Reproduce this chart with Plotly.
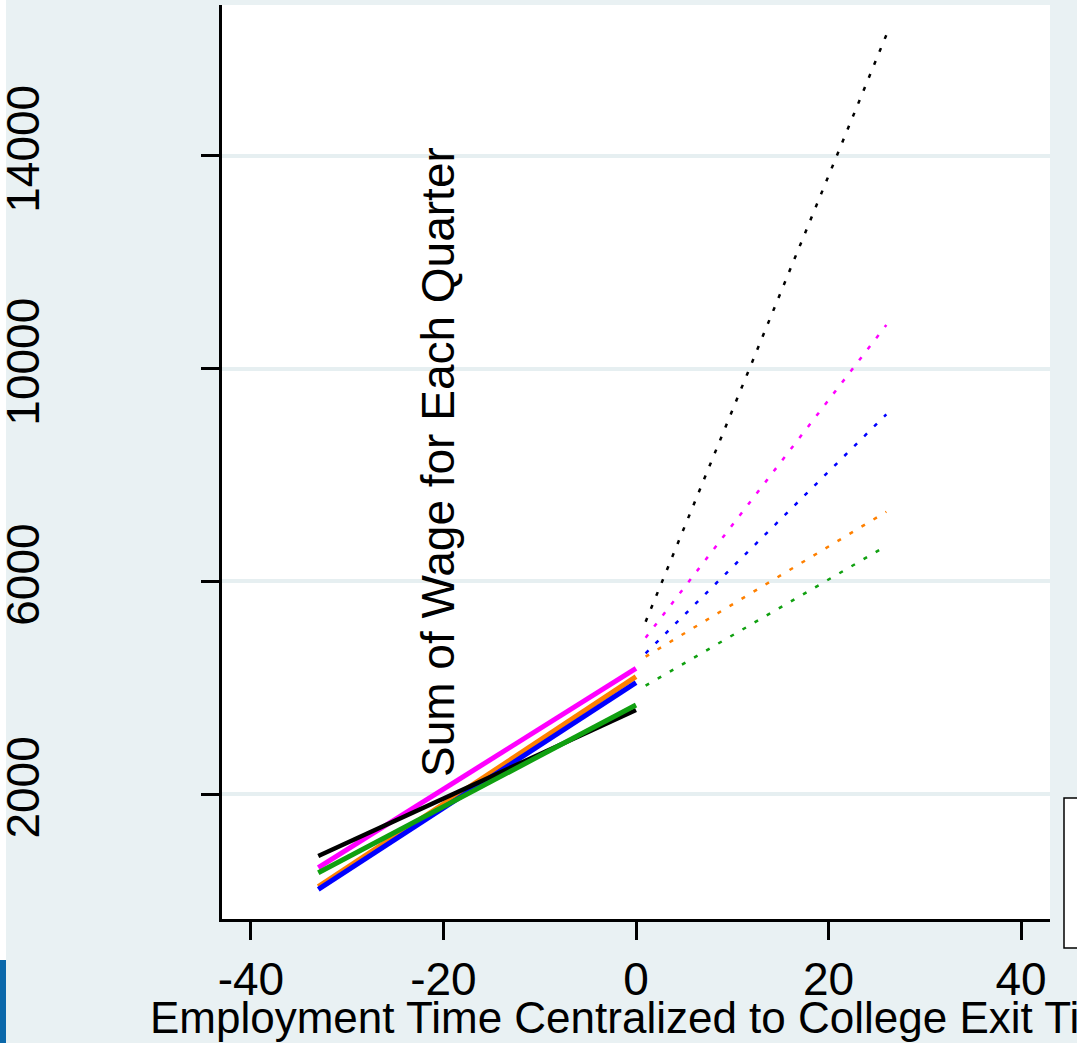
import plotly.graph_objects as go

# ---- data ----
series_names = ["Group 1", "Group 2", "Group 3", "Group 4", "Group 5"]
series_colors = ["#ff00ff", "#ff8000", "#0000ff", "#000000", "#10a010"]

pre_x = [-33, 0]
pre_y = {
    "Group 1": [621, 4368],    # magenta
    "Group 2": [264, 4210],    # orange
    "Group 3": [215, 4097],    # blue
    "Group 4": [841, 3584],    # black
    "Group 5": [527, 3678],    # green
}

post_x = [1, 26]
post_y = {
    "Group 1": [4943, 10819],
    "Group 2": [4586, 7310],
    "Group 3": [4650, 9141],
    "Group 4": [5243, 16268],
    "Group 5": [4041, 6666],
}

x_ticks = [-40, -20, 0, 20, 40]
y_ticks = [2000, 6000, 10000, 14000]

x_title = "Employment Time Centralized to College Exit Time"
y_title = "Sum of Wage for Each Quarter"

BG = "#e9f1f3"
FONT = "Liberation Sans, Arial, Helvetica, sans-serif"

fig = go.Figure()

for name, color in zip(series_names, series_colors):
    fig.add_trace(go.Scatter(
        x=post_x, y=post_y[name], mode="lines",
        line=dict(color=color, width=2.5, dash="4px,10px"),
        showlegend=False, hoverinfo="skip"))

for name, color in zip(series_names, series_colors):
    fig.add_trace(go.Scatter(
        x=pre_x, y=pre_y[name], mode="lines",
        line=dict(color=color, width=5 if color != "#000000" else 4.5),
        showlegend=False, hoverinfo="skip"))

W, H = 1077, 1043
L, R, T, B = 222, 27, 5, 124
pw, ph = W - L - R, H - T - B

def px_x(p):
    return (p - L) / pw

def px_y(p):
    return (H - B - p) / ph

shapes = [
    # white strip at far left
    dict(type="rect", xref="paper", yref="paper",
         x0=px_x(0), x1=px_x(6), y0=px_y(960), y1=px_y(0),
         fillcolor="white", line=dict(width=0), layer="below"),
    # blue strip at bottom-left
    dict(type="rect", xref="paper", yref="paper",
         x0=px_x(0), x1=px_x(6), y0=px_y(1043), y1=px_y(960),
         fillcolor="#0a68aa", line=dict(width=0)),
    # partially visible legend box
    dict(type="rect", xref="paper", yref="paper",
         x0=px_x(1064), x1=px_x(1095), y0=px_y(948), y1=px_y(798),
         fillcolor="white", line=dict(color="black", width=1.5)),
]

fig.update_layout(
    width=W, height=H,
    margin=dict(l=L, r=R, t=T, b=B, pad=0, autoexpand=False),
    paper_bgcolor=BG, plot_bgcolor="white",
    font=dict(family=FONT, size=44, color="black"),
    showlegend=False,
    shapes=shapes,
    xaxis=dict(
        range=[-43, 43], tickvals=x_ticks, ticktext=[str(v) for v in x_ticks],
        ticks="outside", ticklen=18, tickwidth=2.5, tickcolor="black",
        showline=True, linecolor="black", linewidth=2.5,
        showgrid=False, zeroline=False, automargin=False,
        tickfont=dict(size=46, family=FONT),
    ),
    yaxis=dict(
        range=[-343, 16832], tickvals=y_ticks, ticktext=[str(v) for v in y_ticks],
        ticks="outside", ticklen=18, tickwidth=2.5, tickcolor="black",
        showline=True, linecolor="black", linewidth=2.5,
        showgrid=True, gridcolor="#e6eff1", gridwidth=4, zeroline=False,
        automargin=False,
        tickangle=-90, ticklabelstandoff=144,
        tickfont=dict(size=46, family=FONT),
    ),
    annotations=[
        dict(text=y_title, xref="paper", yref="paper", x=px_x(438), y=0.5,
             textangle=-90, showarrow=False, xanchor="center", yanchor="middle",
             font=dict(size=46, family=FONT, color="black")),
        dict(text=x_title, xref="paper", yref="paper", x=px_x(645), y=px_y(1018),
             showarrow=False, xanchor="center", yanchor="middle",
             font=dict(size=44, family=FONT, color="black")),
    ],
)

fig.write_html("out.html")
